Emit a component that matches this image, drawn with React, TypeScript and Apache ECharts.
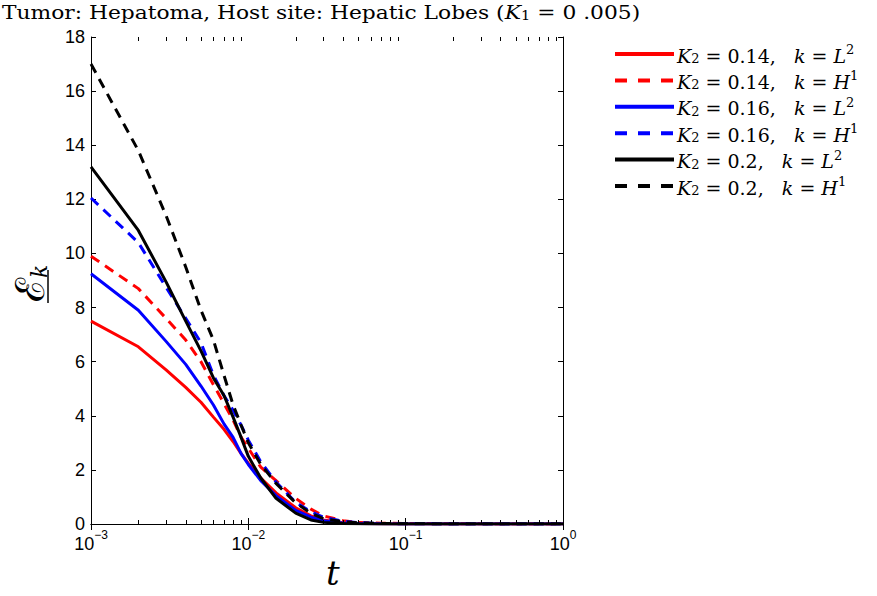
import React, { useEffect, useRef } from "react";
import * as echarts from "echarts";

const tValues = [0.001, 0.002, 0.003, 0.004, 0.005, 0.006, 0.007, 0.008, 0.009, 0.01, 0.012, 0.015, 0.02, 0.025, 0.03, 0.04, 0.05, 0.07, 0.1, 0.2, 0.5, 1];

const red_L2 = [7.5, 6.55, 5.7, 5.05, 4.5, 3.95, 3.5, 3.05, 2.6, 2.25, 1.7, 1.15, 0.6, 0.3, 0.15, 0.05, 0.02, 0.01, 0, 0, 0, 0];
const red_H1 = [9.9, 8.7, 7.6, 6.8, 6.0, 5.15, 4.45, 3.85, 3.2, 2.8, 2.1, 1.6, 0.95, 0.55, 0.3, 0.12, 0.06, 0.03, 0.02, 0.01, 0, 0];
const blue_L2 = [9.25, 7.9, 6.75, 5.9, 5.1, 4.4, 3.7, 3.2, 2.6, 2.2, 1.6, 1.05, 0.5, 0.25, 0.12, 0.04, 0.02, 0.01, 0, 0, 0, 0];
const blue_H1 = [12.05, 10.4, 8.75, 7.6, 6.7, 5.5, 4.75, 4.2, 3.65, 3.1, 2.3, 1.55, 0.8, 0.45, 0.25, 0.1, 0.05, 0.02, 0.01, 0, 0, 0];
const black_L2 = [13.2, 10.85, 8.95, 7.5, 6.4, 5.4, 4.75, 3.95, 3.2, 2.5, 1.7, 0.95, 0.4, 0.15, 0.06, 0.02, 0.01, 0, 0, 0, 0, 0];
const black_H1 = [17.0, 13.8, 11.4, 9.5, 7.9, 6.8, 5.5, 4.4, 3.65, 3.0, 2.2, 1.5, 0.78, 0.4, 0.2, 0.08, 0.04, 0.02, 0.01, 0, 0, 0];

const minorTicks = [2, 3, 4, 5, 6, 7, 8, 9].flatMap((m) => [m * 0.001, m * 0.01, m * 0.1]);

const seriesDefs = [
  { name: "r1", label: "{i|K}{sub|2}{n| = 0.14,   }{i|k}{n| = }{i|L}{sup|2}", color: "#ff0000", dashed: false, data: red_L2 },
  { name: "r2", label: "{i|K}{sub|2}{n| = 0.14,   }{i|k}{n| = }{i|H}{sup|1}", color: "#ff0000", dashed: true, data: red_H1 },
  { name: "b1", label: "{i|K}{sub|2}{n| = 0.16,   }{i|k}{n| = }{i|L}{sup|2}", color: "#0000ff", dashed: false, data: blue_L2 },
  { name: "b2", label: "{i|K}{sub|2}{n| = 0.16,   }{i|k}{n| = }{i|H}{sup|1}", color: "#0000ff", dashed: true, data: blue_H1 },
  { name: "k1", label: "{i|K}{sub|2}{n| = 0.2,   }{i|k}{n| = }{i|L}{sup|2}", color: "#000000", dashed: false, data: black_L2 },
  { name: "k2", label: "{i|K}{sub|2}{n| = 0.2,   }{i|k}{n| = }{i|H}{sup|1}", color: "#000000", dashed: true, data: black_H1 },
];

const SERIF = "'DejaVu Serif', 'Liberation Serif', serif";
const SANS = "'Liberation Sans', Arial, sans-serif";

export default function App() {
  const ref = useRef<HTMLDivElement>(null);
  useEffect(() => {
    if (!ref.current) return;
    const chart = echarts.init(ref.current, null, { renderer: "svg" });
    const mathRich = {
      i: { fontFamily: SERIF, fontStyle: "italic", fontSize: 19, color: "#000", lineHeight: 22, verticalAlign: "bottom" },
      n: { fontFamily: SERIF, fontSize: 19, color: "#000", lineHeight: 22, verticalAlign: "bottom" },
      sub: { fontFamily: SERIF, fontSize: 13, color: "#000", lineHeight: 9, verticalAlign: "bottom" },
      sup: { fontFamily: SERIF, fontSize: 13, color: "#000", lineHeight: 14, verticalAlign: "top" },
    };
    const titleRich = {
      i: { fontFamily: SERIF, fontStyle: "italic", fontSize: 18, color: "#000", lineHeight: 22, verticalAlign: "bottom" },
      n: { fontFamily: SERIF, fontSize: 18, color: "#000", lineHeight: 22, verticalAlign: "bottom" },
      sub: { fontFamily: SERIF, fontSize: 12, color: "#000", lineHeight: 9, verticalAlign: "bottom" },
    };
    const xAxisCommon = {
      type: "log",
      logBase: 10,
      min: 0.001,
      max: 1,
      axisLine: { show: true, lineStyle: { color: "#000", width: 1 } },
      axisTick: { show: true, inside: true, length: 6, lineStyle: { color: "#000" } },
      splitLine: { show: false },
      minorTick: { show: false },
    };
    const yAxisCommon = {
      type: "value",
      min: 0,
      max: 18,
      interval: 2,
      axisLine: { show: true, lineStyle: { color: "#000", width: 1 } },
      axisTick: { show: true, inside: true, length: 5, lineStyle: { color: "#000" } },
      splitLine: { show: false },
    };
    const baseGraphic: any[] = [
      {
        type: "text",
        x: 2,
        y: 0,
        scaleX: 1.21,
        style: {
          text: "{n|Tumor: Hepatoma, Host site: Hepatic Lobes (}{i|K}{sub|1}{n| = 0 .005)}",
          rich: titleRich,
        },
      },
      {
        type: "text",
        x: 6,
        y: 302,
        rotation: Math.PI / 2,
        style: {
          text: "{e|\u2130}{k|k}",
          rich: {
            e: { fontFamily: "'DejaVu Serif', serif", fontSize: 40, color: "#000", lineHeight: 44, verticalAlign: "bottom" },
            k: { fontFamily: SERIF, fontStyle: "italic", fontSize: 22, color: "#000", lineHeight: 22, verticalAlign: "bottom" },
          },
        },
      },
      {
        type: "line",
        shape: { x1: 48, y1: 270, x2: 48, y2: 303 },
        style: { stroke: "#000", lineWidth: 1.5 },
      },
      {
        type: "text",
        left: 326,
        top: 556,
        style: { text: "t", fontFamily: SERIF, fontStyle: "italic", fontSize: 34, fill: "#000" },
      },
    ];
    const option: any = {
      animation: false,
      backgroundColor: "#fff",
      grid: { left: 91, right: 314, top: 37, bottom: 72, containLabel: false },
      xAxis: [
        {
          ...xAxisCommon,
          position: "bottom",
          axisLabel: {
            margin: 5,
            formatter: (v: number) => {
              const e = Math.round(Math.log10(v));
              return `{b|10}{s|${e < 0 ? "\u2212" + -e : e}}`;
            },
            rich: {
              b: { fontFamily: SANS, fontSize: 18, color: "#000", lineHeight: 24, verticalAlign: "bottom" },
              s: { fontFamily: SANS, fontSize: 12, color: "#000", lineHeight: 12, verticalAlign: "top" },
            },
          },
        },
        { ...xAxisCommon, position: "top", axisLabel: { show: false } },
      ],
      yAxis: [
        {
          ...yAxisCommon,
          position: "left",
          axisLabel: { fontFamily: SANS, fontSize: 18, color: "#000", margin: 6 },
        },
        { ...yAxisCommon, position: "right", axisLabel: { show: false } },
      ],
      legend: {
        orient: "vertical",
        left: 608,
        top: 38,
        itemWidth: 59,
        itemHeight: 14,
        itemGap: 4.4,
        data: seriesDefs.map((s) => ({
          name: s.name,
          lineStyle: { width: 4, type: s.dashed ? [12, 11] : "solid", color: s.color },
          itemStyle: { color: "rgba(0,0,0,0)", borderColor: "rgba(0,0,0,0)", borderWidth: 0, opacity: 0 },
        })),
        formatter: (name: string) => seriesDefs.find((s) => s.name === name)!.label,
        textStyle: { rich: mathRich, padding: [0, 0, 0, -2] },
        itemStyle: { color: "rgba(0,0,0,0)", borderColor: "rgba(0,0,0,0)", borderWidth: 0, opacity: 0 },
      },
      graphic: baseGraphic,
      series: seriesDefs.map((s) => ({
        name: s.name,
        type: "line",
        xAxisIndex: 0,
        yAxisIndex: 0,
        symbol: "none",
        showSymbol: false,
        clip: true,
        data: tValues.map((t, i) => [t, s.data[i]]),
        lineStyle: { color: s.color, width: 3, type: s.dashed ? [10, 7] : "solid" },
        itemStyle: { color: s.color },
        z: 3,
      })),
    };
    chart.setOption(option);

    // minor ticks placed through the library's own scale
    const yBottom = chart.convertToPixel({ yAxisIndex: 0 }, 0) as number;
    const yTop = chart.convertToPixel({ yAxisIndex: 0 }, 18) as number;
    const tickGraphics = minorTicks.flatMap((t) => {
      const x = Math.round(chart.convertToPixel({ xAxisIndex: 0 }, t) as number) + 0.5;
      return [
        { type: "line", z: 100, shape: { x1: x, y1: yBottom, x2: x, y2: yBottom - 4 }, style: { stroke: "#000", lineWidth: 1 } },
        { type: "line", z: 100, shape: { x1: x, y1: yTop, x2: x, y2: yTop + 4 }, style: { stroke: "#000", lineWidth: 1 } },
      ];
    });
    chart.setOption({ graphic: [...baseGraphic, ...tickGraphics] });
    return () => chart.dispose();
  }, []);
  return <div ref={ref} style={{ position: "absolute", left: 0, top: 0, width: 877, height: 596 }} />;
}
